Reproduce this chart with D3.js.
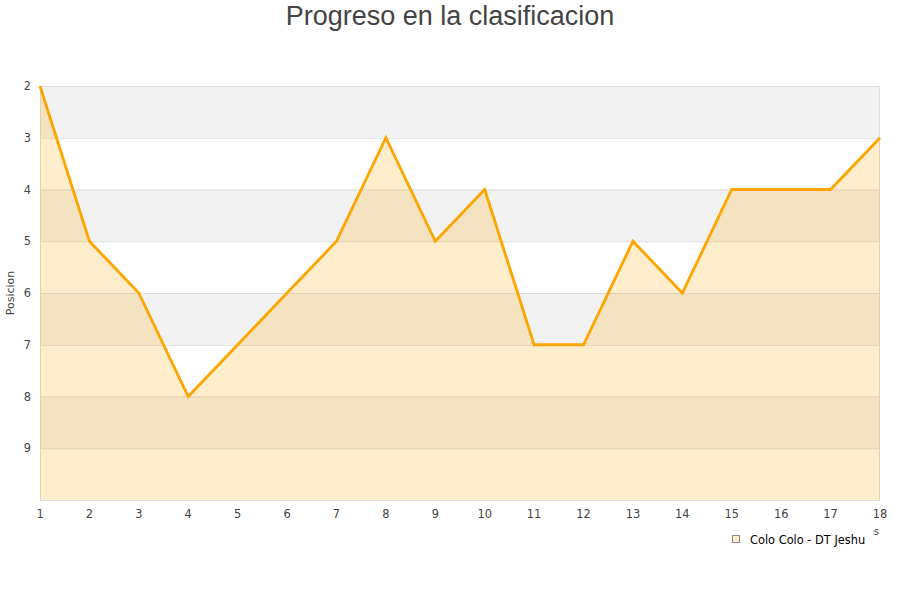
<!DOCTYPE html>
<html><head><meta charset="utf-8">
<script src="https://cdn.jsdelivr.net/npm/d3@7"></script>
<style>body{margin:0;background:#fff}svg{display:block}</style>
</head><body><svg id="c" width="900" height="600"></svg>
<script>
const rounds = [1,2,3,4,5,6,7,8,9,10,11,12,13,14,15,16,17,18];
const positions = [2,5,6,8,7,6,5,3,5,4,7,7,5,6,4,4,4,3];
const yTicks = [2,3,4,5,6,7,8,9];
const seriesName = "Colo Colo - DT Jeshu";
const titleText = "Progreso en la clasificacion";
const yTitle = "Posicion";
const xTitle = "Jornadas";

const svg = d3.select("#c");
const L = 40, R = 880, T = 86, B = 500;
const x = d3.scaleLinear().domain([1,18]).range([L,R]);
const y = d3.scaleLinear().domain([2,10]).range([T,B]);

// bands
const bands = d3.range(2,10);
svg.selectAll("rect.band").data(bands).enter().append("rect")
  .attr("x", L).attr("width", R-L)
  .attr("y", d=>y(d)).attr("height", d=>y(d+1)-y(d))
  .attr("fill", d=> (d%2===0) ? "#f2f2f2" : "#ffffff");
// grid
svg.selectAll("line.grid").data(d3.range(2,11)).enter().append("line")
  .attr("x1", L).attr("x2", R).attr("y1", d=>y(d)+0.5).attr("y2", d=>y(d)+0.5)
  .attr("stroke", "#dddddd");
svg.append("rect").attr("x",L+0.5).attr("y",T+0.5).attr("width",R-L-1).attr("height",B-T)
  .attr("fill","none").attr("stroke","#dddddd");

// area
const area = d3.area().x((d,i)=>x(rounds[i])).y0(y(10)).y1(d=>y(d));
svg.append("path").datum(positions).attr("d", area)
  .attr("fill", "rgb(255,165,0)").attr("fill-opacity", 0.2);
const line = d3.line().x((d,i)=>x(rounds[i])).y(d=>y(d));
svg.append("path").datum(positions).attr("d", line)
  .attr("fill","none").attr("stroke","#ffa500").attr("stroke-width",2.8).attr("stroke-linejoin","miter");

// axes labels
const fnt = "DejaVu Sans, sans-serif";
svg.append("g").selectAll("text").data(yTicks).enter().append("text")
  .attr("x", 31).attr("y", d=>y(d)+4).attr("text-anchor","end")
  .attr("font-family",fnt).attr("font-size",11.4).attr("fill","#444").text(d=>d);
svg.append("g").selectAll("text").data(rounds).enter().append("text")
  .attr("x", d=>x(d)).attr("y", 518).attr("text-anchor","middle")
  .attr("font-family",fnt).attr("font-size",11.4).attr("fill","#444").text(d=>d);

svg.append("text").attr("transform","translate(14,293) rotate(-90)")
  .attr("text-anchor","middle").attr("font-family",fnt).attr("font-size",11).attr("fill","#444").text(yTitle);

// x title (mostly hidden behind legend, as in the reference)
svg.append("defs").append("clipPath").attr("id","xt").append("rect")
  .attr("x",873).attr("y",520).attr("width",30).attr("height",20);
svg.append("text").attr("x", 879).attr("y", 535).attr("text-anchor","end")
  .attr("clip-path","url(#xt)")
  .attr("font-family",fnt).attr("font-size",10).attr("fill","#444").text(xTitle);
// legend
const lg = svg.append("g");
lg.append("rect").attr("x",732.5).attr("y",535.5).attr("width",7).attr("height",7)
  .attr("fill","#ffedcc").attr("stroke","#888");
lg.append("text").attr("x",750).attr("y",543.5).attr("font-family",fnt).attr("font-size",11.4)
  .attr("fill","#000").text(seriesName);

// title
svg.append("text").attr("x",450).attr("y",25).attr("text-anchor","middle")
  .attr("font-family","Liberation Sans, Arial, sans-serif").attr("font-size",27).attr("fill","#444")
  .text(titleText);
</script></body></html>
